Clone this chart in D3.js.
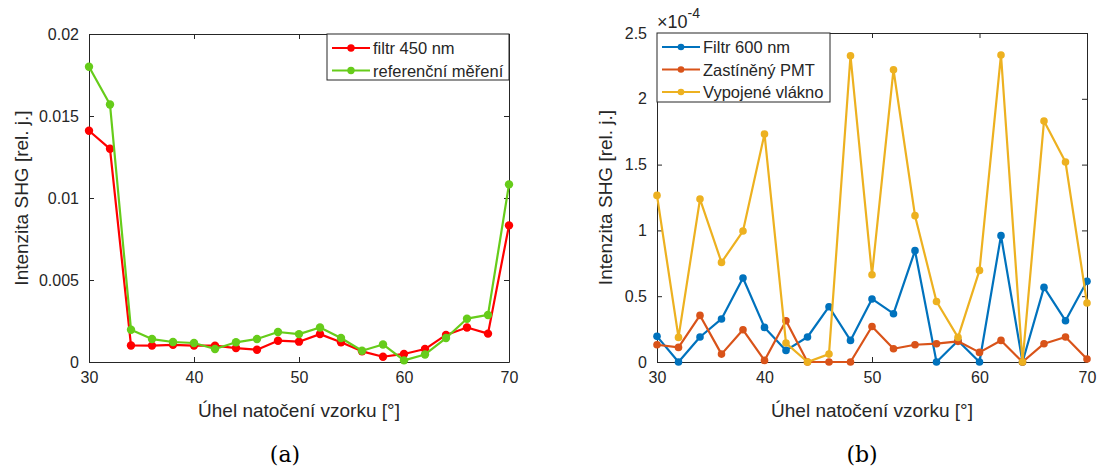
<!DOCTYPE html>
<html>
<head>
<meta charset="UTF-8">
<title>SHG</title>
<style>
    body { margin: 0; background: #fff; }
    svg { display: block; }
    .tick text { font-family: "Liberation Sans", sans-serif; font-size: 16px; fill: #262626; }
    .lbl { font-family: "Liberation Sans", sans-serif; font-size: 19px; fill: #262626; }
    .leg { font-family: "Liberation Sans", sans-serif; font-size: 16.5px; fill: #262626; }
    .cap { font-family: "DejaVu Serif", serif; font-size: 22px; fill: #000; }
    .domain { stroke: #262626; }
    .tick line { stroke: #262626; }
</style>
</head>
<body>
<svg width="1102" height="468"></svg>
<script src="https://cdn.jsdelivr.net/npm/d3@7"></script>
<script>
    // uhly natoceni
    var angles = [30, 32, 34, 36, 38, 40, 42, 44, 46, 48, 50, 52, 54, 56, 58, 60, 62, 64, 66, 68, 70];

    // (a)
    var filtr450 = [0.0141, 0.0130, 0.00101, 0.00100, 0.00105, 0.00100, 0.00100, 0.00085, 0.00075, 0.00130, 0.00124,
        0.00170, 0.00120, 0.00065, 0.00032, 0.00049, 0.00079, 0.00165, 0.00210, 0.00173, 0.00833];
    var referencni = [0.0180, 0.0157, 0.00197, 0.00140, 0.00122, 0.00116, 0.00079, 0.00120, 0.00140, 0.00183, 0.00170,
        0.00210, 0.00146, 0.00069, 0.00107, 0.00010, 0.00046, 0.00146, 0.00264, 0.00287, 0.01083];

    // (b) hodnoty v 1e-4
    var filtr600 = [0.195, 0, 0.19, 0.327, 0.638, 0.263, 0.088, 0.19, 0.42, 0.164, 0.479,
        0.367, 0.846, 0, 0.162, 0, 0.96, 0, 0.567, 0.314, 0.613];
    var zastineny = [0.131, 0.111, 0.354, 0.06, 0.245, 0.012, 0.314, 0, 0, 0, 0.27,
        0.101, 0.131, 0.139, 0.157, 0.073, 0.164, 0, 0.139, 0.19, 0.023];
    var vypojene = [1.266, 0.187, 1.238, 0.757, 0.995, 1.733, 0.144, 0, 0.06, 2.327, 0.663,
        2.221, 1.112, 0.46, 0.187, 0.696, 2.333, 0, 1.831, 1.52, 0.448];

    var xTicks = [30, 40, 50, 60, 70];
    var yTicksA = [0, 0.005, 0.01, 0.015, 0.02];
    var yTickLabelsA = ["0", "0.005", "0.01", "0.015", "0.02"];
    var yTicksB = [0, 0.5, 1, 1.5, 2, 2.5];
    var yTickLabelsB = ["0", "0.5", "1", "1.5", "2", "2.5"];

    var svg = d3.select("svg");

    function panel(p) {
        var g = svg.append("g").attr("transform", "translate(" + p.left + "," + p.top + ")");
        var x = d3.scaleLinear().domain([30, 70]).range([0, p.w]);
        var y = d3.scaleLinear().domain(p.ydom).range([p.h, 0]);

        // osy - ticky dovnitr, box
        g.append("g").attr("transform", "translate(0," + p.h + ")")
            .call(d3.axisBottom(x).tickValues(xTicks).tickSizeInner(-5).tickSizeOuter(0).tickPadding(10));
        g.append("g")
            .call(d3.axisTop(x).tickValues(xTicks).tickSizeInner(-5).tickSizeOuter(0).tickFormat(""));
        g.append("g")
            .call(d3.axisLeft(y).tickValues(p.yticks).tickSizeInner(-5).tickSizeOuter(0).tickPadding(10)
                .tickFormat(function (d, i) { return p.ylabels[i]; }));
        g.append("g").attr("transform", "translate(" + p.w + ",0)")
            .call(d3.axisRight(y).tickValues(p.yticks).tickSizeInner(-5).tickSizeOuter(0).tickFormat(""));

        var line = d3.line()
            .x(function (d, i) { return x(angles[i]); })
            .y(function (d) { return y(d); });

        p.series.forEach(function (s) {
            g.append("path").datum(s.values)
                .attr("fill", "none").attr("stroke", s.color).attr("stroke-width", 2.2)
                .attr("stroke-linejoin", "round").attr("d", line);
            g.selectAll(null).data(s.values).enter().append("circle")
                .attr("cx", function (d, i) { return x(angles[i]); })
                .attr("cy", function (d) { return y(d); })
                .attr("r", s.r).attr("fill", s.color);
        });

        // legenda
        var lg = g.append("g").attr("transform", "translate(" + p.leg.x + ",0)");
        lg.append("rect").attr("x", 0).attr("y", 0).attr("width", p.leg.w).attr("height", p.leg.h)
            .attr("fill", "#fff").attr("stroke", "#262626").attr("stroke-width", 1);
        p.series.forEach(function (s, i) {
            var yy = 14 + i * 22.5;
            lg.append("line").attr("x1", 5).attr("x2", 43).attr("y1", yy).attr("y2", yy)
                .attr("stroke", s.color).attr("stroke-width", 2.2);
            lg.append("circle").attr("cx", 24).attr("cy", yy).attr("r", s.r - 0.5).attr("fill", s.color);
            lg.append("text").attr("class", "leg").attr("x", 46).attr("y", yy + 6).text(s.name);
        });

        // popisky
        g.append("text").attr("class", "lbl").attr("text-anchor", "middle")
            .attr("x", p.w / 2).attr("y", p.h + 55).text("Úhel natočení vzorku [°]");
        g.append("text").attr("class", "lbl").attr("text-anchor", "middle")
            .attr("transform", "translate(" + p.ylabX + "," + (p.h / 2) + ") rotate(-90)")
            .text("Intenzita SHG [rel. j.]");
        g.append("text").attr("class", "cap").attr("text-anchor", "middle")
            .attr("x", p.capX).attr("y", p.h + 100).text(p.cap);
        return g;
    }

    panel({
        left: 89, top: 34, w: 420, h: 328, ydom: [0, 0.02],
        yticks: yTicksA, ylabels: yTickLabelsA, ylabX: -61, capX: 196, cap: "(a)",
        leg: {x: 238, w: 182, h: 46},
        series: [
            {name: "filtr 450 nm", values: filtr450, color: "#ff0000", r: 4.2},
            {name: "referenční měření", values: referencni, color: "#66cc1a", r: 4.2}
        ]
    });

    var gb = panel({
        left: 657, top: 33, w: 430, h: 329, ydom: [0, 2.5],
        yticks: yTicksB, ylabels: yTickLabelsB, ylabX: -45, capX: 205, cap: "(b)",
        leg: {x: 0, w: 173, h: 69},
        series: [
            {name: "Filtr 600 nm", values: filtr600, color: "#0072bd", r: 3.8},
            {name: "Zastíněný PMT", values: zastineny, color: "#d95319", r: 3.8},
            {name: "Vypojené vlákno", values: vypojene, color: "#edb120", r: 3.8}
        ]
    });

    // exponent
    var ex = gb.append("text").attr("class", "lbl").attr("x", 0).attr("y", -5).style("font-size", "18px");
    ex.append("tspan").text("×10");
    ex.append("tspan").attr("dy", -10).style("font-size", "14px").text("-4");
</script>
</body>
</html>
